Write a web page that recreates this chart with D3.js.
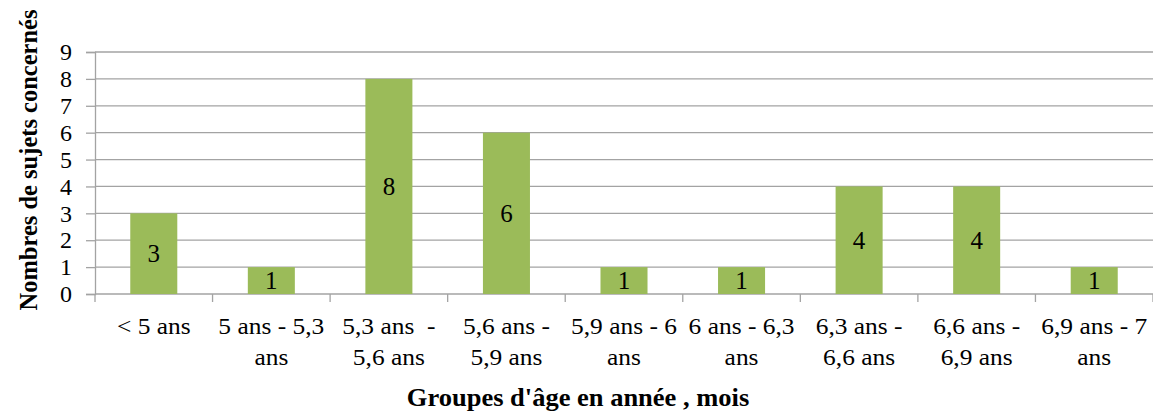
<!DOCTYPE html>
<html>
<head>
<meta charset="utf-8">
<script src="https://cdn.jsdelivr.net/npm/d3@7"></script>
<style>
  body { margin: 0; background: #fff; }
</style>
</head>
<body>
<script>
(function() {
    var w = 1153,
        h = 415;
    // data
    var categories = [
        ['< 5 ans'],
        ['5 ans - 5,3', 'ans'],
        ['5,3 ans  -', '5,6 ans'],
        ['5,6 ans -', '5,9 ans'],
        ['5,9 ans - 6', 'ans'],
        ['6 ans - 6,3', 'ans'],
        ['6,3 ans -', '6,6 ans'],
        ['6,6 ans -', '6,9 ans'],
        ['6,9 ans - 7', 'ans']
    ];
    var values = [3, 1, 8, 6, 1, 1, 4, 4, 1];
    var yTicks = [0, 1, 2, 3, 4, 5, 6, 7, 8, 9];
    var xTitle = "Groupes d'âge en année , mois";
    var yTitle = 'Nombres de sujets concernés';

    var left = 95, right = 1153, top = 52, bottom = 294;
    var grey = '#a3a3a3';
    var serif = '"Liberation Serif", "Times New Roman", serif';

    var svg = d3.select('body')
        .append('svg')
        .attr('width', w)
        .attr('height', h);

    var x = d3.scaleBand()
        .domain(d3.range(categories.length))
        .range([left, right])
        .paddingInner(0.6)
        .paddingOuter(0.3);
    var y = d3.scaleLinear()
        .domain([0, 9])
        .range([bottom, top]);

    // gridlines
    svg.append('g')
        .selectAll('line')
        .data(yTicks.slice(1))
        .enter()
        .append('line')
        .attr('x1', left)
        .attr('x2', right)
        .attr('y1', function(d) { return y(d); })
        .attr('y2', function(d) { return y(d); })
        .attr('stroke', grey)
        .attr('stroke-width', 1.3);

    // y axis
    var yAxis = svg.append('g')
        .attr('transform', 'translate(' + left + ',0)')
        .call(d3.axisLeft(y).tickValues(yTicks).tickSize(9).tickPadding(14));
    yAxis.attr('font-family', serif);
    yAxis.select('.domain').attr('stroke', grey).attr('stroke-width', 1.3);
    yAxis.selectAll('.tick line').attr('stroke', grey).attr('stroke-width', 1.3);
    yAxis.selectAll('.tick text')
        .attr('font-family', serif)
        .attr('font-size', 24)
        .attr('fill', '#000');

    // x axis line + ticks at band boundaries
    svg.append('line')
        .attr('x1', left).attr('x2', right)
        .attr('y1', bottom).attr('y2', bottom)
        .attr('stroke', grey).attr('stroke-width', 1.3);
    var bounds = d3.range(categories.length + 1).map(function(i) {
        return left + i * x.step();
    });
    svg.append('g')
        .selectAll('line')
        .data(bounds)
        .enter()
        .append('line')
        .attr('x1', function(d) { return d; })
        .attr('x2', function(d) { return d; })
        .attr('y1', bottom)
        .attr('y2', bottom + 8)
        .attr('stroke', grey)
        .attr('stroke-width', 1.3);

    // bars
    svg.append('g')
        .selectAll('rect')
        .data(values)
        .enter()
        .append('rect')
        .attr('x', function(d, i) { return x(i); })
        .attr('y', function(d) { return y(d); })
        .attr('width', x.bandwidth())
        .attr('height', function(d) { return y(0) - y(d); })
        .attr('fill', '#9bbb59');

    // value labels
    svg.append('g')
        .selectAll('text')
        .data(values)
        .enter()
        .append('text')
        .attr('x', function(d, i) { return x(i) + x.bandwidth() / 2; })
        .attr('y', function(d) { return (y(d) + y(0)) / 2; })
        .attr('text-anchor', 'middle')
        .attr('dy', '0.35em')
        .attr('font-family', serif)
        .attr('font-size', 25)
        .text(function(d) { return d; });

    // category labels
    var cat = svg.append('g')
        .selectAll('text')
        .data(categories)
        .enter()
        .append('text')
        .attr('text-anchor', 'middle')
        .attr('font-family', serif)
        .attr('font-size', 24)
        .attr('transform', function(d, i) {
            return 'translate(' + (x(i) + x.bandwidth() / 2) + ',334) scale(1.06,1)';
        });
    cat.selectAll('tspan')
        .data(function(d) { return d; })
        .enter()
        .append('tspan')
        .attr('x', 0)
        .attr('y', function(d, j) { return j * 31; })
        .style('white-space', 'pre')
        .text(function(d) { return d; });

    // titles
    svg.append('text')
        .attr('transform', 'translate(578,406) scale(1.06,1)')
        .attr('text-anchor', 'middle')
        .attr('font-family', serif)
        .attr('font-weight', 'bold')
        .attr('font-size', 25)
        .text(xTitle);
    svg.append('text')
        .attr('transform', 'translate(37,160) rotate(-90)')
        .attr('text-anchor', 'middle')
        .attr('font-family', serif)
        .attr('font-weight', 'bold')
        .attr('font-size', 24.5)
        .text(yTitle);
})();
</script>
</body>
</html>
